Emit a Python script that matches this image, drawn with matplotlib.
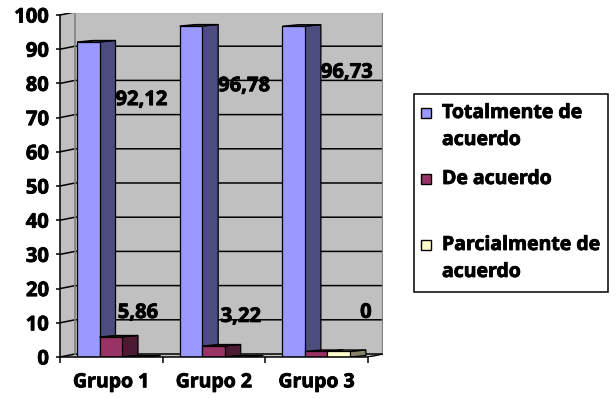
import numpy as np
import matplotlib
matplotlib.use("Agg")
import matplotlib.pyplot as plt
import matplotlib.patheffects as pe
from matplotlib.patches import Rectangle, Polygon

# ---- data ----
grupos = ["Grupo 1", "Grupo 2", "Grupo 3"]
series_nombres = ["Totalmente de\nacuerdo", "De acuerdo", "Parcialmente de\nacuerdo"]
totalmente = [92.12, 96.78, 96.73]
de_acuerdo = [5.86, 3.22, 1.63]
parcialmente = [0.0, 0.0, 1.63]
etiquetas_totalmente = ["92,12", "96,78", "96,73"]
etiquetas_de_acuerdo = ["5,86", "3,22", ""]
etiquetas_parcialmente = ["", "", "0"]
y_ticks = list(range(0, 101, 10))

# ---- styling ----
colores_frente = ["#9999FF", "#993366", "#FFFFCC"]
colores_lado = ["#4C4C80", "#4D1A33", "#83836A"]
colores_tope = ["#7A7ACC", "#7A2952", "#CCCCA3"]
GRIS = "#C0C0C0"
BORDE = "#808080"

plt.rcParams["font.family"] = ["Open Sans", "DejaVu Sans"]
plt.rcParams["font.weight"] = "bold"
FS_TXT = 14
FS_NUM = 14.5
trazo = [pe.withStroke(linewidth=0.6, foreground="black")]

W, H = 616, 398
fig = plt.figure(figsize=(W / 100, H / 100), dpi=100)

# plot box in pixels (front axis at left / floor at bottom)
x_izq, x_der = 60, 383
y_base, y_tope = 357, 13
ax = fig.add_axes([x_izq / W, 1 - y_base / H, (x_der - x_izq) / W, (y_base - y_tope) / H])
px_x = 102.7   # pixels per category
px_y = 3.42    # pixels per value unit
ax.set_xlim(0, (x_der - x_izq) / px_x)
ax.set_ylim(0, (y_base - y_tope) / px_y)
ax.patch.set_visible(False)

n = len(grupos)
ymax = y_ticks[-1]
wall_dx = 15 / px_x
wall_dy = 3 / px_y

# walls and floor
ax.add_patch(Polygon([(0, 0), (0, ymax), (wall_dx, ymax + wall_dy),
                      (n + wall_dx, ymax + wall_dy), (n + wall_dx, wall_dy), (n, 0)],
                     closed=True, facecolor=GRIS, edgecolor="none", zorder=0))
# gridlines running across side wall and back wall
for v in y_ticks:
    if v < ymax:
        ax.plot([0, wall_dx, n + wall_dx], [v, v + wall_dy, v + wall_dy],
                color="black", lw=1.1, zorder=1, solid_capstyle="butt")
    else:
        ax.plot([0, wall_dx], [v, v + wall_dy], color="black", lw=1.1, zorder=1)
ax.plot([wall_dx, n + wall_dx, n + wall_dx], [ymax + wall_dy, ymax + wall_dy, wall_dy],
        color=BORDE, lw=1.6, zorder=1)
ax.plot([wall_dx, wall_dx], [wall_dy, ymax + wall_dy], color=BORDE, lw=1.2, zorder=1)
ax.plot([n, n + wall_dx], [0, wall_dy], color="black", lw=1.0, zorder=1)

# 3-D style columns
bar_off = 17 / px_x
bar_w = 22.5 / px_x
prof_dx = 16 / px_x
prof_dy = 1.5 / px_y
series = [totalmente, de_acuerdo, parcialmente]
for s, vals in enumerate(series):
    lefts = np.arange(n) + bar_off + s * bar_w
    ax.bar(lefts, vals, width=bar_w, align="edge", color=colores_frente[s],
           edgecolor="black", linewidth=0.9, zorder=3 + 2 * s + 1)
    for l, v in zip(lefts, vals):
        r = l + bar_w
        ax.add_patch(Polygon([(r, 0), (r + prof_dx, prof_dy), (r + prof_dx, v + prof_dy), (r, v)],
                             closed=True, facecolor=colores_lado[s], edgecolor="black",
                             linewidth=0.9, zorder=3 + 2 * s))
        ax.add_patch(Polygon([(l, v), (l + prof_dx, v + prof_dy), (r + prof_dx, v + prof_dy), (r, v)],
                             closed=True, facecolor=colores_tope[s], edgecolor="black",
                             linewidth=0.9, zorder=3 + 2 * s))

# data labels
desp_totalmente = [-17.0, -17.6, -13.6]
desp_de_acuerdo = [7.0, 8.5, 0.0]
desp_parcialmente = [0.0, 0.0, 11.3]
for s, (vals, etqs, desp) in enumerate([(totalmente, etiquetas_totalmente, desp_totalmente),
                                        (de_acuerdo, etiquetas_de_acuerdo, desp_de_acuerdo),
                                        (parcialmente, etiquetas_parcialmente, desp_parcialmente)]):
    for g, (v, t, d) in enumerate(zip(vals, etqs, desp)):
        if not t:
            continue
        xr = g + bar_off + (s + 1) * bar_w + prof_dx
        ha = "left" if s == 0 else "center"
        ax.text(xr, v + d, t, ha=ha, va="center", fontsize=FS_NUM, fontweight="bold",
                zorder=2, path_effects=trazo)

# axes, ticks and labels
for sp in ["top", "right"]:
    ax.spines[sp].set_visible(False)
ax.spines["left"].set_bounds(0, ymax)
ax.spines["left"].set_linewidth(1.1)
ax.spines["bottom"].set_bounds(0, n)
ax.spines["bottom"].set_linewidth(1.1)
ax.spines["left"].set_zorder(9)
ax.spines["bottom"].set_zorder(9)
ax.set_yticks(y_ticks)
ax.set_yticklabels([str(v) for v in y_ticks], fontsize=FS_NUM, fontweight="bold")
ax.tick_params(axis="y", length=3, width=1.1, pad=5, direction="out")
ax.set_xticks(np.arange(n) + 0.5)
ax.set_xticklabels(grupos, fontsize=FS_TXT, fontweight="bold")
ax.set_xticks(np.arange(n + 1), minor=True)
ax.tick_params(axis="x", which="major", length=0, pad=11)
ax.tick_params(axis="x", which="minor", length=4, width=1.1, direction="out")
for lbl in ax.get_xticklabels() + ax.get_yticklabels():
    lbl.set_path_effects(trazo)

# legend box
def fx(px):
    return px / W

def fy(py):
    return 1 - py / H

fig.patches.append(Rectangle((fx(414), fy(292)), fx(608) - fx(414), fy(94) - fy(292),
                             transform=fig.transFigure, facecolor="white",
                             edgecolor="black", linewidth=1.1))
centros = [113, 179, 245]
for nombre, color, cy in zip(series_nombres, colores_frente, centros):
    fig.patches.append(Rectangle((fx(421), fy(cy + 5)), fx(431) - fx(421), fy(cy - 5) - fy(cy + 5),
                                 transform=fig.transFigure, facecolor=color,
                                 edgecolor="black", linewidth=1.0))
    for i, linea in enumerate(nombre.split("\n")):
        fig.text(fx(442), fy(cy + 27 * i), linea, ha="left", va="center",
                 fontsize=FS_TXT, fontweight="bold", path_effects=trazo)

fig.savefig("out.png", dpi=100, facecolor="white")
